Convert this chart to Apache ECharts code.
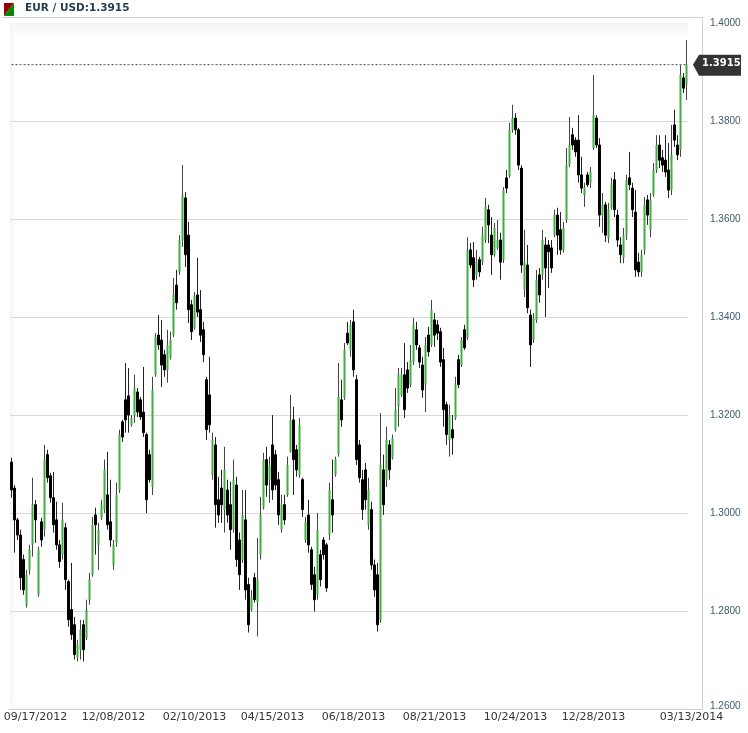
<!DOCTYPE html>
<html><head><meta charset="utf-8">
<style>html,body{margin:0;padding:0;background:#fff}#c{width:748px;height:733px}</style>
<script src="https://cdn.jsdelivr.net/npm/echarts@6/dist/echarts.min.js"></script>
</head><body><div id="c"></div>
<script>
// Prices x 10000, one entry per bar
const opensPips = [
13104,13051,12986,12955,12905,12811,12884,12935,13017,12833,
12982,12966,13119,13076,13031,12986,12935,12915,12970,12860,
12803,12772,12705,12721,12772,12745,12823,12874,12996,12935,
12990,13007,13037,12982,12894,12939,13047,13186,13231,13239,
13180,13200,13247,13231,13206,13160,13119,13053,13282,13363,
13353,13323,13292,13317,13363,13465,13492,13557,13643,13567,
13425,13378,13445,13415,13374,13272,13241,13078,13139,13027,
13051,13007,13047,13017,12966,13057,12945,12905,12986,12854,
12803,12868,12819,12915,13011,13109,13068,13139,13119,13068,
12966,13017,13037,13125,13190,13129,13078,13068,12945,12996,
12925,12874,12833,12915,12945,12935,12955,13027,13078,13119,
13231,13235,13367,13333,13390,13272,13139,13068,13088,12976,
13007,12894,12874,12782,13088,13068,13139,13113,13170,13217,
13241,13282,13292,13262,13308,13374,13337,13302,13262,13363,
13343,13394,13384,13370,13313,13221,13149,13170,13194,13313,
13302,13374,13357,13537,13521,13486,13517,13512,13557,13619,
13567,13527,13541,13557,13517,13684,13688,13782,13806,13782,
13704,13455,13506,13404,13353,13394,13486,13486,13547,13547,
13541,13567,13608,13578,13537,13598,13710,13772,13761,13761,
13690,13649,13690,13674,13745,13806,13751,13608,13629,13561,
13623,13680,13608,13547,13521,13567,13684,13663,13614,13512,
13492,13537,13639,13578,13649,13700,13751,13725,13720,13700,
13659,13792,13751,13741,13888,13874];
const closesPips = [
13047,12986,12955,12868,12843,12874,12925,13017,12986,12925,
12945,13109,13072,13031,12976,12935,12901,12986,12864,12782,
12752,12711,12731,12762,12721,12803,12864,12976,12976,12966,
13017,13088,12976,12945,12935,13037,13160,13155,13190,13200,
13194,13255,13206,13196,13164,13027,13068,13251,13359,13343,
13302,13292,13343,13353,13445,13429,13557,13649,13527,13415,
13370,13443,13410,13363,13323,13170,13180,13149,13017,12996,
13017,13088,12996,12966,13068,12905,12874,12996,12843,12772,
12827,12823,12864,12996,13109,13057,13098,13047,13057,12996,
13017,12986,13098,13190,13109,13088,13180,13007,12982,12935,
12854,12823,12966,12864,12915,12847,13047,12996,13109,13237,
13190,13333,13347,13384,13292,13109,13072,13007,13027,13047,
12894,12843,12772,13098,13017,13149,13088,13153,13211,13282,
13282,13211,13255,13313,13384,13343,13308,13251,13343,13329,
13415,13363,13367,13308,13211,13160,13200,13153,13262,13262,
13353,13337,13537,13506,13476,13512,13492,13567,13625,13588,
13527,13582,13557,13512,13659,13663,13782,13806,13782,13710,
13506,13512,13419,13343,13398,13476,13445,13557,13500,13533,
13500,13608,13567,13537,13582,13710,13751,13751,13737,13690,
13663,13665,13670,13696,13812,13751,13608,13629,13567,13619,
13670,13619,13557,13527,13567,13680,13670,13619,13496,13492,
13527,13629,13608,13639,13700,13751,13720,13710,13696,13659,
13731,13761,13731,13894,13867,13915];
const lowsPips = [
13031,12919,12945,12843,12833,12807,12874,12911,12939,12829,
12931,12952,13062,13021,12960,12925,12888,12905,12843,12768,
12741,12701,12697,12701,12697,12741,12813,12870,12915,12884,
12986,13000,12966,12931,12884,12931,13041,13145,13164,13164,
13176,13184,13196,13190,13155,13000,13062,13037,13278,13333,
13257,13278,13266,13313,13359,13415,13486,13543,13502,13388,
13353,13374,13400,13349,13308,13149,13164,13068,12970,12980,
12980,12960,12980,12925,12960,12890,12843,12898,12823,12756,
12799,12817,12748,12905,13007,13033,13021,13027,13047,12976,
12960,12976,13033,13123,13037,13074,13072,12992,12939,12919,
12843,12799,12823,12850,12905,12839,12945,12960,13074,13115,
13176,13231,13343,13319,13278,13098,13062,12986,13007,12966,
12884,12829,12758,12776,12996,13053,13068,13109,13166,13176,
13237,13194,13245,13257,13302,13333,13296,13235,13206,13319,
13339,13339,13353,13298,13176,13139,13115,13119,13190,13255,
13298,13333,13353,13500,13461,13476,13482,13506,13551,13551,
13486,13523,13537,13476,13510,13653,13684,13776,13772,13700,
13490,13441,13408,13298,13347,13388,13429,13476,13400,13459,
13490,13563,13527,13527,13531,13592,13706,13741,13727,13674,
13653,13625,13665,13663,13741,13745,13584,13572,13553,13551,
13619,13604,13543,13510,13510,13557,13659,13604,13482,13482,
13482,13527,13588,13563,13645,13694,13704,13696,13686,13643,
13649,13747,13720,13727,13857,13843];
const highsPips = [
13113,13057,12990,12966,12915,12884,12935,13072,13027,12931,
12990,13139,13129,13082,13084,13023,12945,13021,12980,12864,
12898,12788,12741,12782,12782,12823,12878,12992,13011,12980,
13027,13109,13125,13068,12945,13062,13170,13190,13306,13296,
13200,13282,13255,13237,13298,13164,13129,13278,13367,13404,
13394,13333,13374,13370,13480,13496,13567,13710,13655,13594,
13435,13451,13521,13455,13390,13278,13319,13164,13155,13074,
13088,13135,13068,13064,13109,13074,12960,13047,13047,12868,
12843,12878,12949,13033,13123,13135,13115,13200,13129,13084,
13037,13037,13115,13241,13217,13139,13194,13072,12992,13027,
12931,12890,13000,12925,12951,12939,13062,13109,13115,13306,
13272,13347,13390,13394,13415,13282,13149,13088,13102,13072,
13023,12905,12898,13204,13119,13176,13149,13160,13255,13296,
13296,13347,13308,13343,13398,13390,13343,13319,13359,13380,
13435,13408,13394,13378,13337,13227,13221,13200,13278,13323,
13359,13384,13563,13551,13553,13537,13523,13584,13643,13629,
13604,13592,13598,13572,13665,13700,13796,13833,13816,13786,
13710,13578,13547,13415,13408,13496,13500,13578,13563,13557,
13557,13619,13623,13614,13594,13745,13808,13786,13767,13812,
13727,13674,13696,13706,13894,13812,13765,13653,13635,13633,
13684,13696,13619,13563,13582,13690,13737,13674,13659,13531,
13537,13645,13649,13653,13714,13771,13771,13741,13771,13755,
13792,13823,13771,13914,13898,13965];
const tickLabels = ['09/17/2012','12/08/2012','02/10/2013','04/15/2013','06/18/2013','08/21/2013','10/24/2013','12/28/2013','03/13/2014'];
const tickBars = [8,34,61,87,114,141,168,194,225];
const currentPrice = 1.3915;
const pairName = 'EUR / USD';

const p = v => v / 10000;
const categories = opensPips.map((_, i) => {
  const k = tickBars.indexOf(i);
  if (k < 0) return '';
  return k === tickLabels.length - 1
    ? {value: tickLabels[k], textStyle: {padding: [0, 0, 0, 10]}}
    : tickLabels[k];
});
const fullBars = opensPips.map((o, i) => [p(o), p(closesPips[i]), p(lowsPips[i]), p(highsPips[i])]);
const bodyBars = opensPips.map((o, i) => {
  const c = closesPips[i];
  return [p(o), p(c), p(Math.min(o, c)), p(Math.max(o, c))];
});
const priceLine = opensPips.map(() => currentPrice);

const FRAME = '#cfcfcf';
const chart = echarts.init(document.getElementById('c'), null, {renderer: 'canvas'});
chart.setOption({
  animation: false,
  backgroundColor: '#fff',
  grid: {left: 10, right: 60, top: 23, bottom: 24, containLabel: false},
  xAxis: {
    type: 'category', data: categories, boundaryGap: true,
    axisLine: {show: false}, axisTick: {show: false}, splitLine: {show: false},
    axisLabel: {interval: 0, margin: 3, color: '#333', fontFamily: 'DejaVu Sans', fontSize: 11, hideOverlap: false, showMinLabel: true, showMaxLabel: true}
  },
  yAxis: {
    type: 'value', position: 'right', min: 1.26, max: 1.40, interval: 0.02, scale: true,
    axisLine: {show: false}, axisTick: {show: false},
    splitLine: {show: true, showMinLine: false, showMaxLine: false, lineStyle: {color: '#d9d9d9', width: 1}},
    axisLabel: {margin: 22, color: '#3f5a68', fontFamily: 'Liberation Sans', fontSize: 10, lineHeight: 6, formatter: v => v.toFixed(4),
      verticalAlignMinLabel: 'bottom', verticalAlign: 'middle'}
  },
  series: [
    {
      type: 'line', name: 'current', data: priceLine, symbol: 'none', silent: true, z: 1,
      lineStyle: {color: '#444', type: [2, 2], width: 1}
    },
    {
      type: 'candlestick', name: 'wicks', data: fullBars, barWidth: 1, z: 2, silent: true,
      itemStyle: {color: '#444', color0: '#333', borderColor: '#444', borderColor0: '#222', borderWidth: 1}
    },
    {
      type: 'candlestick', name: 'bodies', data: bodyBars, barWidth: 2, z: 3, silent: true,
      itemStyle: {color: '#3fae3f', color0: '#000', borderColor: 'rgba(0,0,0,0)', borderColor0: '#000', borderWidth: 1}
    }
  ],
  graphic: []
});

const tagY = chart.convertToPixel({yAxisIndex: 0}, currentPrice);
chart.setOption({graphic: [
  // soft inner shading of the plot panel
  {type: 'rect', z: -5, silent: true, shape: {x: 10, y: 23, width: 678, height: 14},
    style: {fill: new echarts.graphic.LinearGradient(0, 0, 0, 1, [{offset: 0, color: '#f4f4f4'}, {offset: 1, color: '#ffffff'}])}},
  {type: 'rect', z: -4, silent: true, shape: {x: 10, y: 23, width: 9, height: 686},
    style: {fill: new echarts.graphic.LinearGradient(0, 0, 1, 0, [{offset: 0, color: '#f4f4f4'}, {offset: 1, color: 'rgba(255,255,255,0)'}])}},
  {type: 'rect', z: -4, silent: true, shape: {x: 10, y: 700, width: 678, height: 9},
    style: {fill: new echarts.graphic.LinearGradient(0, 0, 0, 1, [{offset: 0, color: 'rgba(255,255,255,0)'}, {offset: 1, color: '#f6f6f6'}])}},
  // frame
  {type: 'line', z: -3, silent: true, shape: {x1: 2, y1: 17.5, x2: 702, y2: 17.5}, style: {stroke: FRAME, lineWidth: 1}},
  {type: 'line', z: -3, silent: true, shape: {x1: 702.5, y1: 17, x2: 702.5, y2: 710}, style: {stroke: FRAME, lineWidth: 1}},
  {type: 'line', z: -3, silent: true, shape: {x1: 8, y1: 709.5, x2: 702, y2: 709.5}, style: {stroke: FRAME, lineWidth: 1}},
  // header
  {type: 'polygon', silent: true, shape: {points: [[4, 3], [14, 3], [4, 16]]}, style: {fill: '#990000'}},
  {type: 'polygon', silent: true, shape: {points: [[14, 3], [14, 16], [4, 16]]}, style: {fill: '#008a00'}},
  {type: 'text', silent: true, x: 25, y: 3, style: {text: pairName + ':' + currentPrice.toFixed(4), fill: '#1f3d4d', font: 'bold 10.5px "DejaVu Sans"'}},
  // current price tag
  {type: 'polygon', z: 10, silent: true, shape: {points: [[693, tagY], [699, tagY - 10], [741, tagY - 10], [741, tagY + 11], [699, tagY + 11]]}, style: {fill: '#333333'}},
  {type: 'text', z: 11, silent: true, x: 702, y: tagY - 6, style: {text: currentPrice.toFixed(4), fill: '#fff', font: 'bold 10px "DejaVu Sans"'}}
]});
</script></body></html>
